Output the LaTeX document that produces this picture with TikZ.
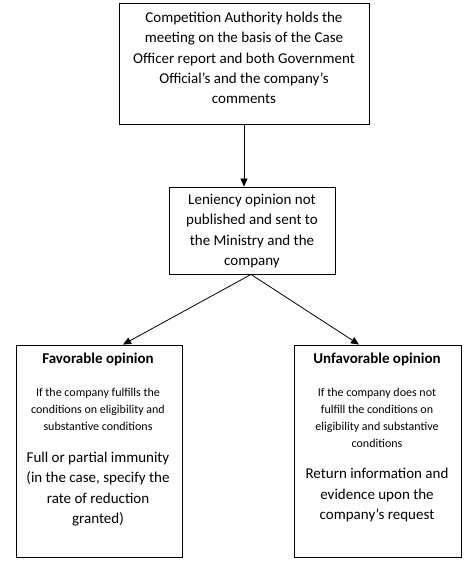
\documentclass[tikz,border=0pt]{standalone}
\usepackage{fontspec}
\setmainfont{Carlito}
\usetikzlibrary{arrows.meta}
\begin{document}
\begin{tikzpicture}[x=1pt,y=-1pt,
  box/.style={draw,line width=0.9pt,inner sep=0pt,minimum width=#1},
  big/.style={align=center,inner sep=0pt,font=\fontsize{15}{20.4}\selectfont},
  small/.style={align=center,inner sep=0pt,font=\fontsize{12}{17}\selectfont},
  title/.style={inner sep=0pt,font=\fontsize{15}{17}\selectfont\bfseries},
  arr/.style={line width=0.8pt,-{Triangle[width=7pt,length=8pt]}}]
\useasboundingbox (0,0) rectangle (475,569);
% boxes
\node[box=250pt,minimum height=121pt] (top) at (244,63.5) {};
\node[box=166pt,minimum height=87pt] (mid) at (252,230.5) {};
\node[box=166pt,minimum height=212pt] (fav) at (99,451) {};
\node[box=167pt,minimum height=212pt] (unf) at (377.5,451) {};
% texts
\node[big] (ttop) at (244,58) {Competition Authority holds the\\meeting on the basis of the Case\\Officer report and both Government\\Official’s and the company’s\\comments};
\node[big] (tmid) at (252,231) {Leniency opinion not\\published and sent to\\the Ministry and the\\company};
\node[title] (tfav) at (98,359) {Favorable opinion};
\node[small] (sfav) at (98,409) {If the company fulfills the\\conditions on eligibility and\\substantive conditions};
\node[big] (bfav) at (98,489) {Full or partial immunity\\(in the case, specify the\\rate of reduction\\granted)};
\node[title] (tunf) at (377,359) {Unfavorable opinion};
\node[small] (sunf) at (377,417.5) {If the company does not\\fulfill the conditions on\\eligibility and substantive\\conditions};
\node[big] (bunf) at (377,495) {Return information and\\evidence upon the\\company’s request};
% connectors
\draw[arr] (top.south -| 244,0) -- (mid.north -| 244,0);
\coordinate (ms) at ([xshift=-1pt]mid.south);
\draw[arr] (ms) -- ([xshift=24pt]fav.north);
\draw[arr] (ms) -- ([xshift=-18.5pt]unf.north);
\end{tikzpicture}
\end{document}
